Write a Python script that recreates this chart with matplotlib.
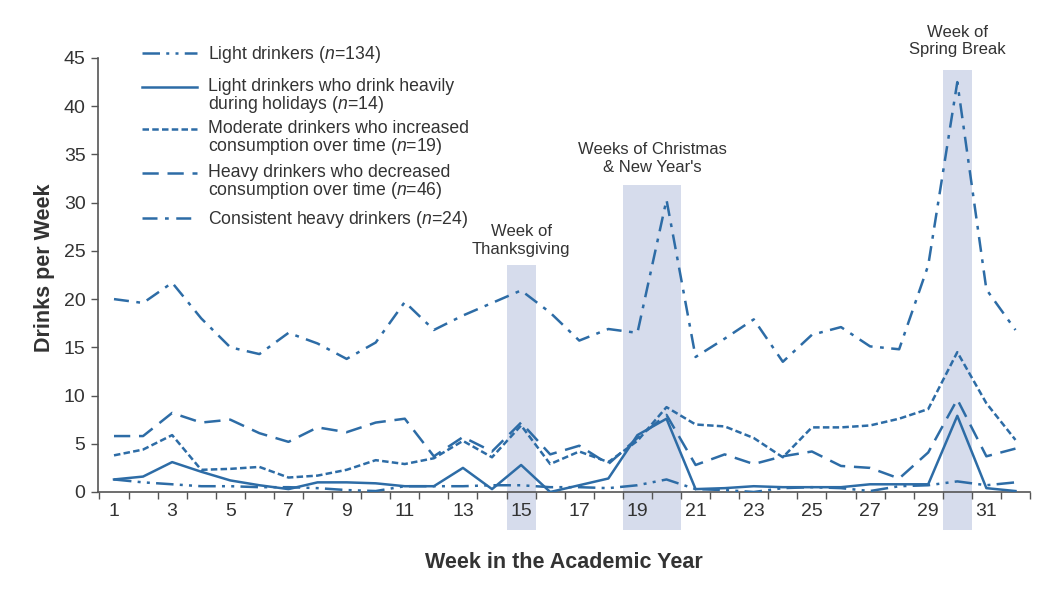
import numpy as np
import matplotlib
matplotlib.use("Agg")
import matplotlib.pyplot as plt
from matplotlib.lines import Line2D
from matplotlib.patches import Rectangle
from matplotlib.ticker import FixedLocator, NullFormatter

plt.rcParams['font.family'] = ['Liberation Sans', 'DejaVu Sans']
plt.rcParams['mathtext.fontset'] = 'custom'
plt.rcParams['mathtext.it'] = 'Liberation Sans:italic'
plt.rcParams['mathtext.rm'] = 'Liberation Sans'

# данные
weeks = list(range(1, 33))
light = [1.3, 1.0, 0.8, 0.6, 0.6, 0.5, 0.5, 0.4, 0.2, 0.1, 0.6, 0.6, 0.6, 0.7, 0.7, 0.5,
         0.5, 0.4, 0.7, 1.3, 0.3, 0.2, 0.0, 0.4, 0.5, 0.4, 0.1, 0.6, 0.7, 1.1, 0.7, 1.0]
holiday = [1.3, 1.6, 3.1, 2.1, 1.2, 0.7, 0.3, 1.0, 1.0, 0.9, 0.6, 0.6, 2.5, 0.3, 2.8, 0.0,
           0.7, 1.4, 5.9, 7.6, 0.3, 0.4, 0.6, 0.5, 0.5, 0.5, 0.8, 0.8, 0.8, 7.9, 0.4, 0.1]
moderate = [3.8, 4.4, 5.9, 2.3, 2.4, 2.6, 1.5, 1.7, 2.3, 3.3, 2.9, 3.5, 5.3, 3.6, 6.9, 2.9,
            4.2, 3.1, 5.3, 8.8, 7.0, 6.8, 5.6, 3.6, 6.7, 6.7, 6.9, 7.6, 8.6, 14.5, 9.2, 5.4]
heavy_decr = [5.8, 5.8, 8.2, 7.2, 7.5, 6.1, 5.2, 6.7, 6.2, 7.2, 7.6, 3.7, 5.7, 4.2, 7.2, 3.9,
              4.8, 2.9, 5.6, 8.0, 2.8, 3.9, 2.9, 3.7, 4.2, 2.7, 2.5, 1.4, 4.1, 9.6, 3.7, 4.5]
heavy_const = [20.0, 19.6, 21.7, 18.0, 15.0, 14.3, 16.5, 15.4, 13.8, 15.5, 19.7, 16.8, 18.3,
               19.6, 20.9, 18.6, 15.7, 16.9, 16.5, 30.3, 14.0, 15.9, 17.9, 13.5, 16.3, 17.1,
               15.1, 14.8, 23.5, 42.5, 21.0, 16.8]

labels = ['Light drinkers ($n$=134)',
          'Light drinkers who drink heavily\nduring holidays ($n$=14)',
          'Moderate drinkers who increased\nconsumption over time ($n$=19)',
          'Heavy drinkers who decreased\nconsumption over time ($n$=46)',
          'Consistent heavy drinkers ($n$=24)']

# праздничные недели: (начало, конец, верх полосы, низ подписи, подпись)
holidays = [(14.5, 15.5, 23.5, 24.4, 'Week of\nThanksgiving'),
            (18.5, 20.5, 31.8, 32.9, "Weeks of Christmas\n& New Year's"),
            (29.5, 30.5, 43.8, 45.1, 'Week of\nSpring Break')]

COLOR = '#2d6ca6'
BAND = '#d6dcec'
TEXT = '#333333'
styles = [(0, (7, 2.5, 1.2, 2.5, 1.2, 2.5)),
          '-',
          (0, (2.6, 1.3)),
          (0, (6.5, 3.5)),
          (0, (6, 3, 1.5, 3))]
series = [light, holiday, moderate, heavy_decr, heavy_const]

fig = plt.figure(figsize=(10.44, 5.9), dpi=100)
ax = fig.add_axes([98 / 1044, 1 - 492 / 590, (1030 - 98) / 1044, (492 - 58) / 590])

for x0, x1, top, ty, txt in holidays:
    ax.add_patch(Rectangle((x0, -3.9), x1 - x0, top + 3.9, facecolor=BAND,
                           edgecolor='none', clip_on=False, zorder=0))
    ax.text((x0 + x1) / 2, ty, txt, ha='center', va='bottom', fontsize=12,
            color=TEXT, linespacing=1.2)

for ys, ls in zip(series, styles):
    ax.plot(weeks, ys, color=COLOR, linestyle=ls, linewidth=1.8, zorder=3)

ax.set_xlim(0.45, 32.5)
ax.set_ylim(0, 45)
ax.set_yticks(range(0, 46, 5))
ax.xaxis.set_major_locator(FixedLocator(list(range(1, 33, 2))))
ax.xaxis.set_minor_locator(FixedLocator([w + 0.5 for w in range(0, 33)]))
ax.xaxis.set_minor_formatter(NullFormatter())
ax.tick_params(axis='x', which='major', length=0, pad=8, labelsize=14, labelcolor=TEXT)
ax.tick_params(axis='x', which='minor', length=5, width=1, color='#555555')
ax.tick_params(axis='y', length=5, width=1, color='#555555', labelsize=14,
               labelcolor=TEXT, pad=4)
for s in ['top', 'right']:
    ax.spines[s].set_visible(False)
for s in ['left', 'bottom']:
    ax.spines[s].set_color('#555555')
    ax.spines[s].set_linewidth(1.2)
ax.set_facecolor('none')

ax.set_xlabel('Week in the Academic Year', fontsize=15.5, fontweight='bold', color=TEXT,
              va='center')
ax.set_ylabel('Drinks per Week', fontsize=15.5, fontweight='bold', color=TEXT,
              va='center')
ax.xaxis.set_label_coords(0.5, (492 - 563) / 434)
ax.yaxis.set_label_coords((45 - 98) / 932, (492 - 268) / 434)

# легенда вручную: линия выровнена по первой строке подписи
leg_y = [53, 87, 129, 173, 218]
for y, lab, ls in zip(leg_y, labels, styles):
    fy = 1 - y / 590
    fig.add_artist(Line2D([142 / 1044, 197 / 1044], [fy, fy], color=COLOR,
                          linestyle=ls, linewidth=1.8))
    fig.text(208 / 1044, 1 - (y - 9) / 590, lab, ha='left', va='top', fontsize=12.7,
             color=TEXT, linespacing=0.92)

fig.savefig('out.png', dpi=100)
